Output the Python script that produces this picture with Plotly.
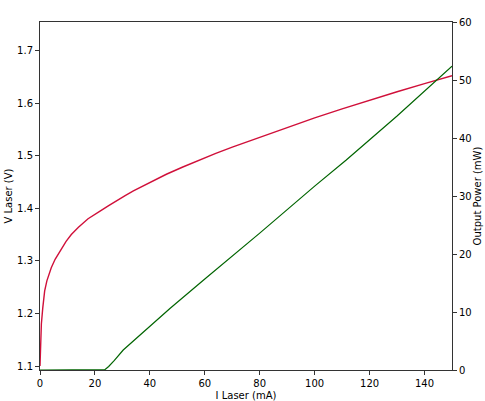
import plotly.graph_objects as go

# V-I data (red, left axis)
i_v = [0, 0.1, 0.3, 0.5, 1, 1.7, 2.5, 3.3, 4.1, 5.5, 7.7, 9.5, 11.4, 14, 17.5, 20, 22,
       25, 28, 31, 34, 40, 46, 52, 58, 64, 70, 80, 90, 100, 110, 120, 130, 140, 150]
v_laser = [1.10, 1.13, 1.16, 1.18, 1.21, 1.243, 1.262, 1.276, 1.287, 1.303, 1.323,
           1.337, 1.350, 1.364, 1.380, 1.389, 1.395, 1.405, 1.415, 1.424, 1.433,
           1.4496, 1.4646, 1.4784, 1.4916, 1.5042, 1.5162, 1.5352, 1.5537, 1.5717,
           1.5889, 1.6055, 1.6215, 1.637, 1.652]

# L-I data (green, right axis)
i_p = [0, 10, 20, 23.6, 25, 27, 30.3, 34, 38, 47.3, 60, 80, 100, 111.5, 130, 150]
p_out = [0, 0, 0, 0.05, 0.6, 1.6, 3.45, 5.0, 6.7, 10.6, 15.7, 23.6, 31.7, 36.2, 43.8, 52.4]

x_ticks = [0, 20, 40, 60, 80, 100, 120, 140]
v_ticks = [1.1, 1.2, 1.3, 1.4, 1.5, 1.6, 1.7]
p_ticks = [0, 10, 20, 30, 40, 50, 60]

fig = go.Figure()
fig.add_trace(go.Scatter(x=i_v, y=v_laser, mode="lines", line=dict(color="#d0103a", width=1.4),
                         showlegend=False))
fig.add_trace(go.Scatter(x=i_p, y=p_out, mode="lines", line=dict(color="#006400", width=1.2),
                         yaxis="y2", showlegend=False))

font = dict(family="DejaVu Sans", size=10, color="black")
axis_common = dict(showgrid=False, zeroline=False, showline=True, linecolor="#333",
                   linewidth=1, ticks="outside", ticklen=4, tickcolor="#333",
                   tickfont=font, automargin=False)

fig.update_layout(
    width=485, height=401,
    margin=dict(l=40, r=33, t=22, b=31),
    paper_bgcolor="white", plot_bgcolor="white",
    font=font,
    xaxis=dict(range=[0, 150], tickvals=x_ticks, mirror=True,
               title=dict(text="I Laser (mA)", font=font, standoff=4), **axis_common),
    yaxis=dict(range=[1.0925, 1.754], tickvals=v_ticks, tickformat=".1f",
               title=dict(text="V Laser (V)", font=font, standoff=2), **axis_common),
    yaxis2=dict(range=[0, 60], tickvals=p_ticks, overlaying="y", side="right",
                title=dict(text="Output Power (mW)", font=font, standoff=3), **axis_common),
)

fig.write_html("out.html", config={"displayModeBar": False},
               post_script="document.body.style.margin='0';document.body.style.overflow='hidden';")
